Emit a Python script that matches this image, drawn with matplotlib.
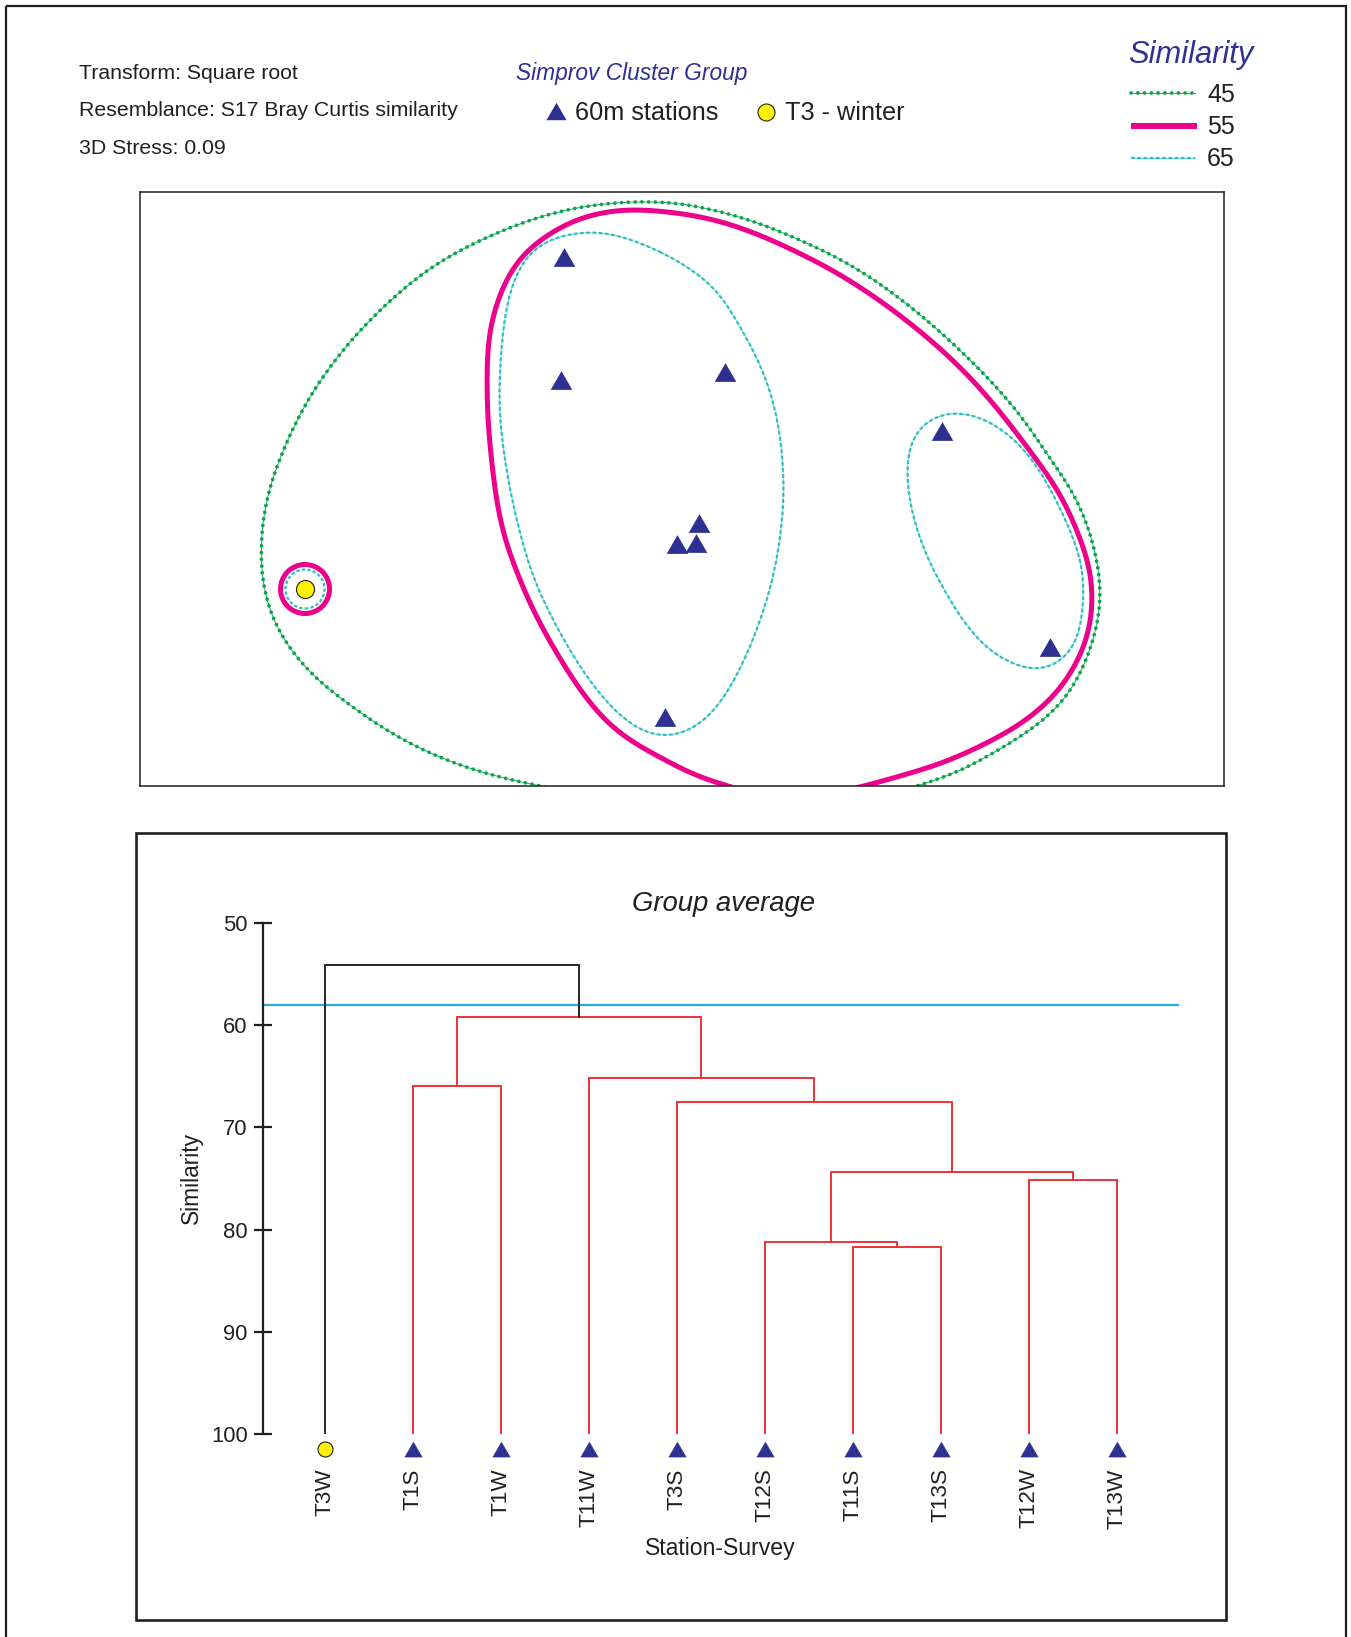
import numpy as np
import matplotlib
matplotlib.use("Agg")
import matplotlib.pyplot as plt
from matplotlib.patches import Rectangle, Circle
import matplotlib.transforms as mtransforms

plt.rcParams["font.family"] = ["Liberation Sans", "DejaVu Sans"]

# ---------------------------------------------------------------- data ----
info_lines = ["Transform: Square root",
              "Resemblance: S17 Bray Curtis similarity",
              "3D Stress: 0.09"]
group_title = "Simprov Cluster Group"
group_names = ["60m stations", "T3 - winter"]
contour_levels = [45, 55, 65]

# nMDS ordination coordinates (first point is T3 winter, the rest 60m stations)
mds_x = [1.65, 4.24, 4.21, 5.85, 5.59, 5.37, 5.56, 5.25, 8.02, 9.10]
mds_y = [1.97, 5.29, 4.06, 4.14, 2.63, 2.42, 2.43, 0.69, 3.55, 1.39]
mds_group = ["T3 - winter"] + ["60m stations"] * 9

# similarity contour outlines on the ordination (MDS units)
contour45 = [(4.45, -0.09), (4.00, 0.00), (3.50, 0.11), (3.00, 0.28), (2.50, 0.53),
             (2.07, 0.83), (1.73, 1.09), (1.50, 1.36), (1.33, 1.63), (1.23, 1.96),
             (1.20, 2.29), (1.22, 2.63), (1.28, 2.96), (1.43, 3.36), (1.60, 3.73),
             (1.80, 4.06), (2.00, 4.33), (2.20, 4.56), (2.47, 4.83), (2.77, 5.09),
             (3.10, 5.31), (3.47, 5.49), (3.83, 5.64), (4.23, 5.76), (4.67, 5.83),
             (5.20, 5.85), (5.53, 5.81), (5.87, 5.73), (6.20, 5.63), (6.53, 5.49),
             (6.87, 5.34), (7.20, 5.16), (7.53, 4.93), (7.87, 4.66), (8.20, 4.36),
             (8.53, 4.03), (8.87, 3.63), (9.10, 3.26), (9.33, 2.96), (9.53, 2.46),
             (9.62, 1.96), (9.60, 1.69), (9.53, 1.43), (9.40, 1.09), (9.20, 0.79),
             (8.87, 0.53), (8.53, 0.33), (8.20, 0.14), (7.77, 0.00), (7.40, -0.11)]
contour55 = [(6.20, -0.10), (5.88, 0.00), (5.53, 0.11), (5.20, 0.29), (4.93, 0.43),
             (4.67, 0.63), (4.40, 0.96), (4.13, 1.39), (3.93, 1.76), (3.77, 2.13),
             (3.63, 2.53), (3.55, 2.96), (3.48, 3.63), (3.47, 4.09), (3.48, 4.46),
             (3.55, 4.79), (3.67, 5.09), (3.83, 5.33), (4.07, 5.51), (4.33, 5.66),
             (4.67, 5.75), (4.93, 5.77), (5.20, 5.75), (5.53, 5.71), (5.87, 5.63),
             (6.20, 5.51), (6.53, 5.36), (6.87, 5.19), (7.20, 4.99), (7.53, 4.76),
             (7.87, 4.49), (8.20, 4.19), (8.53, 3.83), (8.87, 3.39), (9.18, 2.96),
             (9.37, 2.56), (9.50, 2.19), (9.53, 1.89), (9.50, 1.56), (9.40, 1.29),
             (9.20, 0.96), (8.87, 0.66), (8.53, 0.46), (8.03, 0.23), (7.53, 0.08),
             (7.25, 0.00), (6.90, -0.08)]
contour65_a = [(5.20, 5.35), (5.53, 5.16), (5.80, 4.93), (6.00, 4.59), (6.17, 4.29),
               (6.30, 3.96), (6.40, 3.53), (6.44, 2.96), (6.40, 2.46), (6.30, 1.96),
               (6.13, 1.46), (5.93, 1.03), (5.70, 0.69), (5.47, 0.53), (5.20, 0.47),
               (4.93, 0.59), (4.67, 0.83), (4.40, 1.19), (4.13, 1.66), (3.93, 2.09),
               (3.80, 2.53), (3.70, 2.96), (3.62, 3.46), (3.59, 3.89), (3.62, 4.46),
               (3.67, 4.83), (3.77, 5.16), (3.92, 5.38), (4.13, 5.49), (4.47, 5.55),
               (4.73, 5.53), (5.00, 5.43)]
contour65_b = [(8.13, 3.74), (8.37, 3.70), (8.63, 3.56), (8.87, 3.33), (9.07, 3.03),
               (9.30, 2.56), (9.42, 2.19), (9.43, 1.79), (9.37, 1.46), (9.23, 1.26),
               (9.03, 1.16), (8.80, 1.19), (8.53, 1.33), (8.30, 1.56), (8.10, 1.86),
               (7.90, 2.23), (7.77, 2.56), (7.68, 2.96), (7.68, 3.33), (7.77, 3.56),
               (7.93, 3.69)]
# single-sample contours around T3 winter (radius in MDS units)
t3w_radius55 = 0.245
t3w_radius65 = 0.195

# group-average dendrogram
leaves = ["T3W", "T1S", "T1W", "T11W", "T3S", "T12S", "T11S", "T13S", "T12W", "T13W"]
leaf_group = ["T3 - winter"] + ["60m stations"] * 9
# merges: (child a, child b, similarity); new nodes numbered from len(leaves)
merge_a = [6, 5, 8, 11, 4, 3, 1, 16, 0]
merge_b = [7, 10, 9, 12, 13, 14, 2, 15, 17]
merge_sim = [81.7, 81.2, 75.1, 74.4, 67.5, 65.2, 66.0, 59.2, 54.1]
simprof_cut = 58.0
sim_ticks = [50, 60, 70, 80, 90, 100]

# --------------------------------------------------------------- style ----
W, H, DPI = 1351, 1637, 100
INK = "#231f20"
NAVY = "#2e3192"
GREEN = "#09a64b"
MAGENTA = "#ec008c"
CYAN = "#2fbfc0"
RED = "#ee2a2f"
SKY = "#27aae1"
YELLOW = "#fff200"

TRI = [(0, np.sqrt(3) / 4), (-0.5, -np.sqrt(3) / 4), (0.5, -np.sqrt(3) / 4), (0, np.sqrt(3) / 4)]
marker_of = {"60m stations": dict(marker=TRI, color=NAVY, mec="none"),
             "T3 - winter": dict(marker="o", color=YELLOW, mec=INK, mew=0.8)}


def catmull_rom(points, closed=False, n=24):
    p = np.asarray(points, float)
    if closed:
        p = np.vstack([p[-1], p, p[0], p[1]])
    else:
        p = np.vstack([2 * p[0] - p[1], p, 2 * p[-1] - p[-2]])
    t = np.linspace(0, 1, n, endpoint=False)[:, None]
    segs = []
    for i in range(1, len(p) - 2):
        p0, p1, p2, p3 = p[i - 1], p[i], p[i + 1], p[i + 2]
        segs.append(0.5 * ((2 * p1) + (-p0 + p2) * t + (2 * p0 - 5 * p1 + 4 * p2 - p3) * t ** 2
                           + (-p0 + 3 * p1 - 3 * p2 + p3) * t ** 3))
    segs.append(p[-2][None, :])
    return np.vstack(segs)


def smooth_outline(points, closed=False, sigma=0.12, n=2000):
    """Spline through the outline, resampled by arc length and Gaussian-smoothed."""
    c = catmull_rom(points, closed)
    d = np.r_[0, np.cumsum(np.hypot(*np.diff(c, axis=0).T))]
    s = np.linspace(0, d[-1], n)
    xy = np.column_stack([np.interp(s, d, c[:, 0]), np.interp(s, d, c[:, 1])])
    step = d[-1] / (n - 1)
    sg = sigma / step
    half = int(4 * sg)
    k = np.exp(-0.5 * (np.arange(-half, half + 1) / sg) ** 2)
    k /= k.sum()
    if closed:
        ext = np.vstack([xy[-half - 1:-1], xy, xy[1:half + 1]])
    else:
        head = 2 * xy[0] - xy[half:0:-1]
        tail = 2 * xy[-1] - xy[-2:-half - 2:-1]
        ext = np.vstack([head, xy, tail])
    out = np.column_stack([np.convolve(ext[:, 0], k, mode="valid"),
                           np.convolve(ext[:, 1], k, mode="valid")])
    return out


LS45 = dict(color=GREEN, lw=2.7, ls=(0, (0.05, 1.75)), solid_capstyle="round", dash_capstyle="round")
LS45_THIN = dict(color=GREEN, lw=0.6)
LS55 = dict(color=MAGENTA, lw=3.6, solid_capstyle="butt")
LS65 = dict(color=CYAN, lw=1.6, ls=(0, (1.7, 1.1)))

fig = plt.figure(figsize=(W / DPI, H / DPI), dpi=DPI)

# page layer in pixel units
page = fig.add_axes([0, 0, 1, 1], zorder=-5)
page.set_xlim(0, W)
page.set_ylim(H, 0)
page.axis("off")
page.add_patch(Rectangle((6, 6), 1340, 1640, fill=False, ec=INK, lw=1.6))
page.add_patch(Rectangle((136, 833), 1090, 787, fill=False, ec=INK, lw=1.9))

# header text
for i, line in enumerate(info_lines):
    page.text(79, 79 + 37.5 * i, line, fontsize=15.3, color=INK, va="baseline", ha="left")
page.text(632, 80, group_title, fontsize=16.4, style="italic", color=NAVY, ha="center", va="baseline")
page.plot([556], [111], ms=14.5, ls="none", **marker_of["60m stations"])
page.text(575, 120, group_names[0], fontsize=18.2, color=INK, va="baseline")
page.plot([766], [112], ms=12.2, ls="none", **marker_of["T3 - winter"])
page.text(785, 120, group_names[1], fontsize=18.2, color=INK, va="baseline")

page.text(1191, 63, "Similarity", fontsize=22.2, style="italic", color=NAVY, ha="center", va="baseline")
legend_rows = [93, 125.5, 157.5]
for lev, yy in zip(contour_levels, legend_rows):
    if lev == 45:
        page.plot([1131, 1195], [yy, yy], **LS45_THIN)
        page.plot([1131, 1195], [yy, yy], **LS45)
    elif lev == 55:
        page.plot([1131, 1197], [yy, yy], color=MAGENTA, lw=4.3, solid_capstyle="butt")
    else:
        page.plot([1131, 1195], [yy, yy], color=CYAN, lw=0.5)
        page.plot([1131, 1195], [yy, yy], **LS65)
    page.text(1207, yy + 8.5, str(lev), fontsize=18, color=INK, va="baseline")

# ------------------------------------------------------- MDS ordination ----
ax = fig.add_axes([140 / W, 1 - 786 / H, 1084 / W, 594 / H])
ax.set_xlim(0, 10.84)
ax.set_ylim(0, 5.94)
ax.set_xticks([])
ax.set_yticks([])
for s in ax.spines.values():
    s.set_color(INK)
    s.set_linewidth(1.1)

c = smooth_outline(contour45, sigma=0.25)
ax.plot(c[:, 0], c[:, 1], **LS45_THIN)
ax.plot(c[:, 0], c[:, 1], **LS45)
c = smooth_outline(contour55, sigma=0.2)
ax.plot(c[:, 0], c[:, 1], **LS55)
for outline, sg in ((contour65_a, 0.2), (contour65_b, 0.14)):
    c = smooth_outline(outline, closed=True, sigma=sg)
    ax.plot(c[:, 0], c[:, 1], color=CYAN, lw=0.4)
    ax.plot(c[:, 0], c[:, 1], **LS65)

x0, y0 = mds_x[0], mds_y[0]
ax.add_patch(Circle((x0, y0), t3w_radius55, fill=False, ec=MAGENTA, lw=3.6))
ax.add_patch(Circle((x0, y0), t3w_radius65, fill=False, ec=CYAN, lw=1.6, ls=(0, (1.5, 1.0))))

for gx, gy, g in zip(mds_x, mds_y, mds_group):
    ms = 15.6 if g == "60m stations" else 13
    ax.plot([gx], [gy], ls="none", ms=ms, zorder=5, **marker_of[g])

# ------------------------------------------------------------ dendrogram ----
dax = fig.add_axes([263 / W, 1 - 1434.3 / H, 916 / W, (1434.3 - 922.7) / H])
n = len(leaves)
dax.set_xlim(-0.701, 9.708)
dax.set_ylim(100, 50)

node_x = {i: float(i) for i in range(n)}
node_h = {i: 100.0 for i in range(n)}
top = n + len(merge_sim) - 1
for k, (a, b, h) in enumerate(zip(merge_a, merge_b, merge_sim)):
    node = n + k
    node_x[node] = (node_x[a] + node_x[b]) / 2
    node_h[node] = h
    col = INK if node == top else RED
    dax.plot([node_x[a], node_x[a], node_x[b], node_x[b]],
             [node_h[a], h, h, node_h[b]], color=col, lw=1.35, solid_joinstyle="miter")

dax.axhline(simprof_cut, color=SKY, lw=1.6, zorder=1)

for s in ("top", "right", "bottom"):
    dax.spines[s].set_visible(False)
dax.spines["left"].set_linewidth(1.6)
dax.spines["left"].set_color(INK)
dax.set_xticks([])
dax.set_yticks(sim_ticks)
dax.tick_params(axis="y", direction="inout", length=13, width=1.6, color=INK,
                labelsize=15.8, labelcolor=INK, pad=4.5)

mark_off = dax.transData + mtransforms.ScaledTranslation(0, -15 / DPI, fig.dpi_scale_trans)
lab_off = dax.transData + mtransforms.ScaledTranslation(0, -34 / DPI, fig.dpi_scale_trans)
for i, (lab, g) in enumerate(zip(leaves, leaf_group)):
    ms = 13.1 if g == "60m stations" else 10.8
    dax.plot([i], [100], ls="none", ms=ms, transform=mark_off, clip_on=False, **marker_of[g])
    dax.text(i, 100, lab, rotation=90, ha="center", va="top", fontsize=16.2,
             color=INK, transform=lab_off)

page.text(724, 911, "Group average", fontsize=19.8, style="italic", color=INK, ha="center", va="baseline")
page.text(720, 1555, "Station-Survey", fontsize=16.6, color=INK, ha="center", va="baseline")
page.text(191, 1178, "Similarity", fontsize=16.4, color=INK, rotation=90, ha="center", va="center")

fig.savefig("out.png", dpi=DPI)
